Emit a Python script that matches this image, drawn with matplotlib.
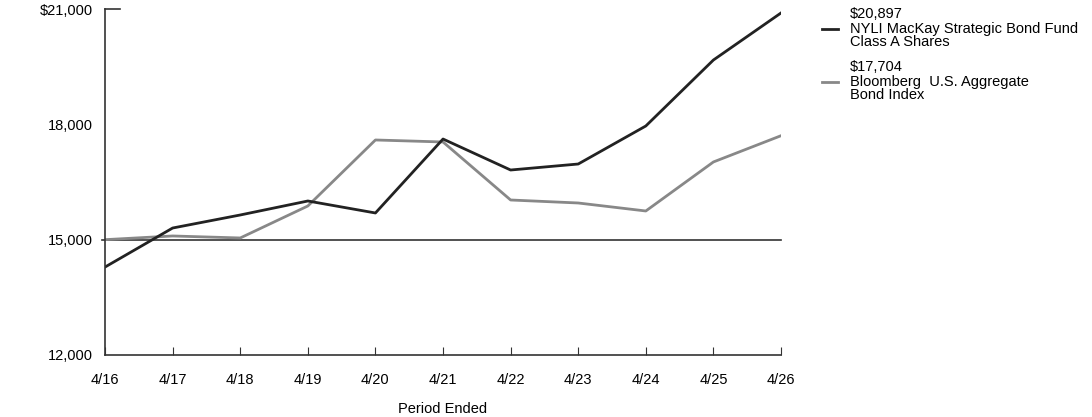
import matplotlib
matplotlib.use('Agg')
from matplotlib import pyplot as plt

plt.rcParams['font.family'] = ['Liberation Sans', 'DejaVu Sans']

years = ["4/16", "4/17", "4/18", "4/19", "4/20", "4/21", "4/22", "4/23", "4/24", "4/25", "4/26"]
fund = [14288, 15303, 15642, 16006, 15694, 17618, 16812, 16968, 17957, 19673, 20897]
index = [15000, 15096, 15044, 15876, 17593, 17541, 16032, 15954, 15746, 17021, 17704]
fund_name = "NYLI MacKay Strategic Bond Fund\nClass A Shares"
index_name = "Bloomberg  U.S. Aggregate\nBond Index"
yticks = [12000, 15000, 18000, 21000]
ylabels = ["12,000", "15,000", "18,000", "$21,000"]

fig = plt.figure(figsize=(10.92, 4.17), dpi=100)
ax = fig.add_axes([0.0962, 0.1487, 0.619, 0.8297])

x = list(range(len(years)))
ax.axhline(15000, color="#333333", lw=1.2, xmin=-0.005, clip_on=False)
ax.plot(x, index, color="#888888", lw=2)
ax.plot(x, fund, color="#222222", lw=2)

ax.set_xlim(0, len(years) - 1)
ax.set_ylim(12000, 21000)
ax.set_xticks(x)
ax.set_xticklabels(years, fontsize=10.5)
ax.set_yticks(yticks)
ax.set_yticklabels(ylabels, fontsize=10.5)
ax.tick_params(axis="x", direction="in", length=6, color="#333333", pad=13)
ax.tick_params(axis="y", length=0, pad=9)
ax.spines["top"].set_visible(False)
ax.spines["right"].set_visible(False)
for s in ("left", "bottom"):
    ax.spines[s].set_color("#333333")
    ax.spines[s].set_linewidth(1.2)
ax.plot([0, 0.022], [1, 1], transform=ax.transAxes, color="#333333", lw=1.2, clip_on=False)
ax.set_xlabel("Period Ended", fontsize=10.5, labelpad=11)

# legend
fig.text(850 / 1092, 1 - 14 / 417, "$%s" % format(fund[-1], ","), fontsize=10.5, va="center")
fig.text(850 / 1092, 1 - 35.5 / 417, fund_name, fontsize=10.5, va="center", linespacing=0.9)
fig.lines.append(plt.Line2D([822 / 1092, 838 / 1092], [1 - 29 / 417] * 2, color="#222222", lw=2, transform=fig.transFigure))
fig.text(850 / 1092, 1 - 67 / 417, "$%s" % format(index[-1], ","), fontsize=10.5, va="center")
fig.text(850 / 1092, 1 - 88.5 / 417, index_name, fontsize=10.5, va="center", linespacing=0.9)
fig.lines.append(plt.Line2D([822 / 1092, 838 / 1092], [1 - 82 / 417] * 2, color="#888888", lw=2, transform=fig.transFigure))

fig.savefig("out.png", dpi=100)
